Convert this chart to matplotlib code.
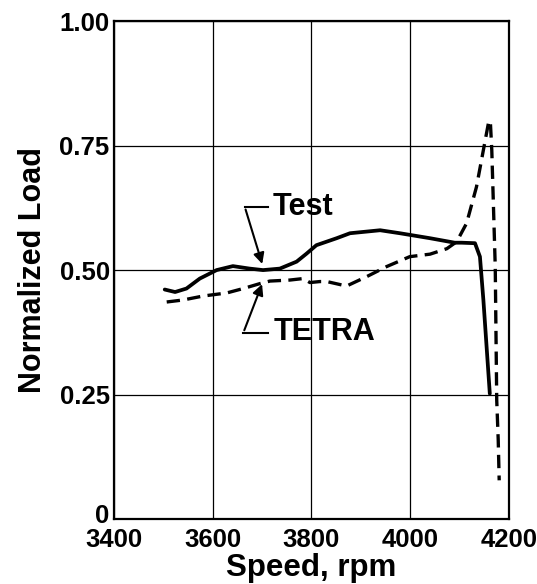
import matplotlib
matplotlib.use("Agg")
import matplotlib.pyplot as plt
from matplotlib.transforms import ScaledTranslation

plt.rcParams['font.family'] = ['Liberation Sans', 'DejaVu Sans']
plt.rcParams['font.weight'] = 'bold'

test_speed = [3503, 3524, 3547, 3574, 3608, 3641, 3675, 3702, 3736, 3770, 3790,
              3810, 3851, 3878, 3939, 3979, 4040, 4090, 4104, 4131, 4141, 4148, 4161]
test_load = [0.461, 0.456, 0.463, 0.483, 0.500, 0.508, 0.503, 0.500, 0.503, 0.517, 0.533,
             0.550, 0.564, 0.574, 0.580, 0.574, 0.564, 0.555, 0.555, 0.554, 0.527, 0.44, 0.252]

tetra_speed = [3507, 3540, 3581, 3628, 3662, 3696, 3716, 3756, 3783, 3797, 3817, 3831,
               3871, 3912, 3952, 3999, 4040, 4074, 4094, 4114, 4134, 4148, 4158, 4162,
               4165, 4172, 4175, 4178, 4180]
tetra_load = [0.436, 0.440, 0.448, 0.454, 0.463, 0.473, 0.478, 0.480, 0.483, 0.475, 0.477, 0.477,
              0.468, 0.487, 0.507, 0.527, 0.532, 0.543, 0.557, 0.594, 0.667, 0.741, 0.794, 0.800,
              0.741, 0.507, 0.239, 0.16, 0.078]

x_ticks = [3400, 3600, 3800, 4000, 4200]
y_ticks = [0, 0.25, 0.50, 0.75, 1.00]
y_labels = ['0', '0.25', '0.50', '0.75', '1.00']

fig = plt.figure(figsize=(5.37, 5.84), dpi=100)
ax = fig.add_axes([0.212, 0.111, 0.736, 0.853])

ax.plot(test_speed, test_load, color='black', lw=2.7, solid_capstyle='round')
ax.plot(tetra_speed, tetra_load, color='black', lw=2.4, dashes=(4, 2.2))

ax.set_xlim(3400, 4200)
ax.set_ylim(0, 1.0)
ax.set_xticks(x_ticks)
ax.set_yticks(y_ticks)
ax.set_yticklabels(y_labels)
ax.grid(True, color='black', lw=0.9)
ax.tick_params(length=0, labelsize=18.5)
ax.tick_params(axis='x', pad=6)
ax.tick_params(axis='y', pad=3)
for s in ax.spines.values():
    s.set_linewidth(1.6)

# lift the "0" label a little, as in the original
zero_lbl = ax.get_yticklabels()[0]
zero_lbl.set_transform(zero_lbl.get_transform() + ScaledTranslation(0, 6 / 100, fig.dpi_scale_trans))

ax.set_xlabel('Speed, rpm', fontsize=22.5, fontweight='bold', labelpad=1)
ax.set_ylabel('Normalized Load', fontsize=22, fontweight='bold', labelpad=8)

# callouts
ax.plot([3665, 3712], [0.627, 0.627], color='black', lw=1.5)
ax.annotate('', xy=(3702, 0.507), xytext=(3665, 0.627),
            arrowprops=dict(arrowstyle='-|>', color='black', lw=1.5, mutation_scale=16))
ax.text(3722, 0.627, 'Test', fontsize=22, fontweight='bold', va='center', ha='left')

ax.plot([3662, 3712], [0.374, 0.374], color='black', lw=1.5)
ax.annotate('', xy=(3702, 0.477), xytext=(3662, 0.374),
            arrowprops=dict(arrowstyle='-|>', color='black', lw=1.5, mutation_scale=16))
ax.text(3724, 0.375, 'TETRA', fontsize=22, fontweight='bold', va='center', ha='left')

fig.savefig('out.png', dpi=100)
